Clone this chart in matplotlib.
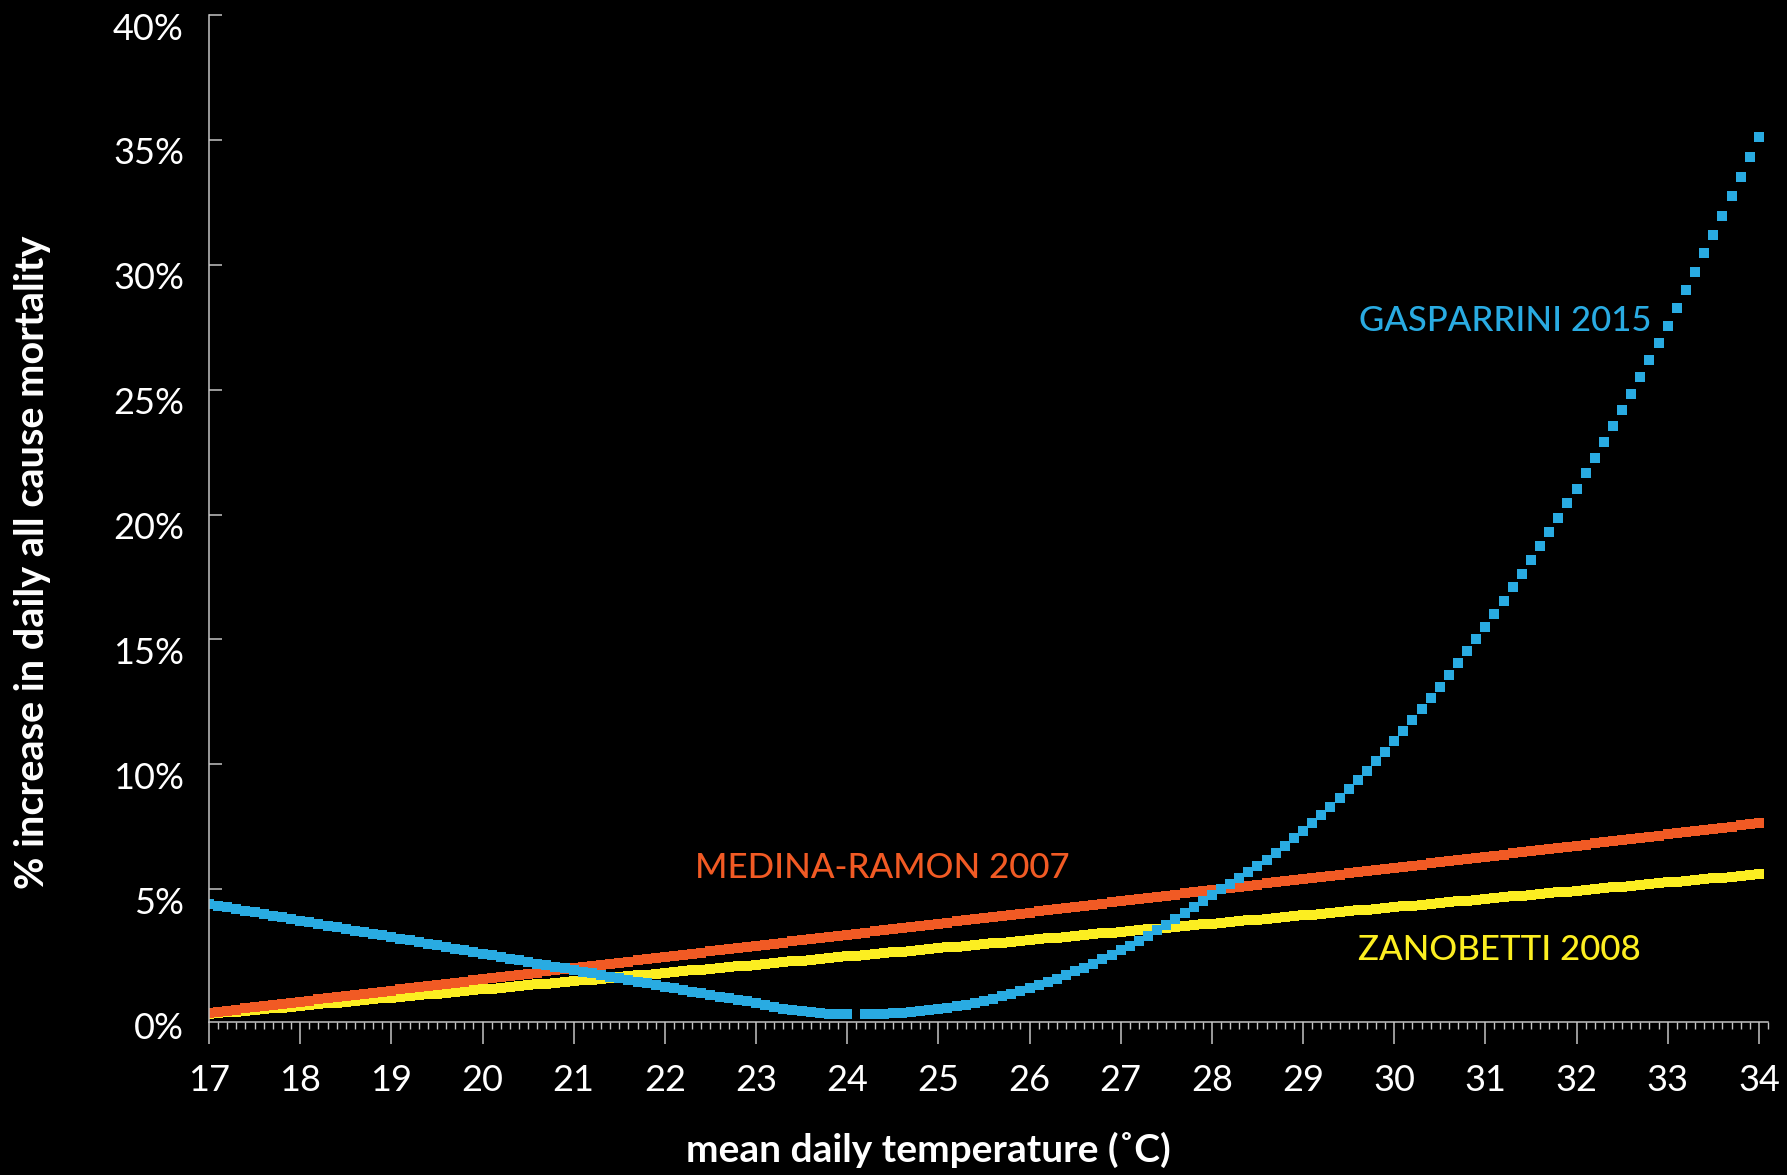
import numpy as np
import matplotlib
matplotlib.use('Agg')
import matplotlib.pyplot as plt
import matplotlib.transforms as mtransforms
from matplotlib.ticker import MultipleLocator

plt.rcParams['font.family'] = ['Lato', 'DejaVu Sans']

# temperature steps, 0.1 C from 17 to 34
temps = np.round(np.arange(170, 341) / 10.0, 1)

# % increase in mortality, one value per 0.1 C
medina = [
    0.05, 0.09, 0.14, 0.18, 0.23, 0.27, 0.32, 0.36, 0.41, 0.45,
    0.50, 0.54, 0.59, 0.63, 0.68, 0.72, 0.77, 0.81, 0.86, 0.90,
    0.94, 0.99, 1.03, 1.08, 1.12, 1.17, 1.21, 1.26, 1.30, 1.35,
    1.39, 1.44, 1.48, 1.53, 1.57, 1.62, 1.66, 1.71, 1.75, 1.80,
    1.83, 1.88, 1.92, 1.97, 2.01, 2.06, 2.10, 2.15, 2.19, 2.24,
    2.28, 2.33, 2.37, 2.42, 2.46, 2.51, 2.55, 2.60, 2.64, 2.69,
    2.73, 2.77, 2.82, 2.86, 2.91, 2.95, 3.00, 3.04, 3.09, 3.13,
    3.17, 3.22, 3.26, 3.31, 3.35, 3.40, 3.44, 3.49, 3.53, 3.58,
    3.62, 3.66, 3.71, 3.75, 3.80, 3.84, 3.89, 3.93, 3.98, 4.02,
    4.06, 4.11, 4.15, 4.20, 4.24, 4.29, 4.33, 4.38, 4.42, 4.47,
    4.51, 4.56, 4.60, 4.65, 4.69, 4.74, 4.78, 4.83, 4.87, 4.92,
    4.96, 5.00, 5.05, 5.09, 5.14, 5.18, 5.23, 5.27, 5.32, 5.36,
    5.40, 5.45, 5.49, 5.54, 5.58, 5.63, 5.67, 5.72, 5.76, 5.81,
    5.85, 5.89, 5.94, 5.98, 6.03, 6.07, 6.12, 6.16, 6.21, 6.25,
    6.29, 6.34, 6.38, 6.43, 6.47, 6.52, 6.56, 6.61, 6.65, 6.70,
    6.74, 6.78, 6.83, 6.87, 6.92, 6.96, 7.01, 7.05, 7.10, 7.14,
    7.19, 7.23, 7.28, 7.32, 7.37, 7.41, 7.46, 7.50, 7.55, 7.59,
    7.63]

zanobetti = [
    0.00, 0.03, 0.07, 0.10, 0.13, 0.16, 0.20, 0.23, 0.26, 0.30,
    0.33, 0.36, 0.40, 0.43, 0.46, 0.49, 0.53, 0.56, 0.59, 0.63,
    0.66, 0.69, 0.72, 0.76, 0.79, 0.82, 0.86, 0.89, 0.92, 0.96,
    0.99, 1.02, 1.05, 1.09, 1.12, 1.15, 1.19, 1.22, 1.25, 1.28,
    1.32, 1.35, 1.38, 1.42, 1.45, 1.48, 1.51, 1.55, 1.58, 1.61,
    1.65, 1.68, 1.71, 1.75, 1.78, 1.81, 1.84, 1.88, 1.91, 1.94,
    1.98, 2.01, 2.04, 2.07, 2.11, 2.14, 2.17, 2.21, 2.24, 2.27,
    2.31, 2.34, 2.37, 2.40, 2.44, 2.47, 2.50, 2.54, 2.57, 2.60,
    2.64, 2.67, 2.70, 2.73, 2.77, 2.80, 2.83, 2.86, 2.90, 2.93,
    2.96, 3.00, 3.03, 3.06, 3.09, 3.13, 3.16, 3.19, 3.23, 3.26,
    3.29, 3.32, 3.36, 3.39, 3.42, 3.46, 3.49, 3.52, 3.55, 3.59,
    3.62, 3.65, 3.69, 3.72, 3.75, 3.78, 3.82, 3.85, 3.88, 3.92,
    3.95, 3.98, 4.02, 4.05, 4.08, 4.11, 4.15, 4.18, 4.21, 4.25,
    4.28, 4.31, 4.34, 4.38, 4.41, 4.44, 4.48, 4.51, 4.54, 4.57,
    4.61, 4.64, 4.67, 4.71, 4.74, 4.77, 4.80, 4.84, 4.87, 4.90,
    4.94, 4.97, 5.00, 5.04, 5.07, 5.10, 5.13, 5.17, 5.20, 5.23,
    5.27, 5.30, 5.33, 5.36, 5.40, 5.43, 5.46, 5.50, 5.53, 5.56,
    5.60]

gasparrini = [
    4.40, 4.33, 4.27, 4.20, 4.14, 4.07, 4.00, 3.94, 3.87, 3.81,
    3.74, 3.67, 3.61, 3.54, 3.48, 3.41, 3.34, 3.28, 3.21, 3.15,
    3.08, 3.01, 2.95, 2.88, 2.82, 2.75, 2.68, 2.62, 2.55, 2.49,
    2.42, 2.35, 2.29, 2.22, 2.16, 2.09, 2.02, 1.96, 1.89, 1.83,
    1.76, 1.69, 1.63, 1.56, 1.50, 1.43, 1.36, 1.30, 1.23, 1.17,
    1.10, 1.03, 0.97, 0.90, 0.84, 0.77, 0.70, 0.64, 0.57, 0.51,
    0.44, 0.38, 0.30, 0.22, 0.16, 0.11, 0.07, 0.04, 0.02, 0.01,
    0.00, np.nan, 0.00, 0.01, 0.02, 0.04, 0.06, 0.09, 0.12, 0.16,
    0.21, 0.25, 0.32, 0.38, 0.46, 0.54, 0.62, 0.72, 0.82, 0.92,
    1.04, 1.16, 1.28, 1.42, 1.56, 1.71, 1.86, 2.02, 2.19, 2.37,
    2.55, 2.74, 2.94, 3.14, 3.36, 3.58, 3.80, 4.04, 4.28, 4.53,
    4.78, 5.00, 5.22, 5.45, 5.68, 5.93, 6.18, 6.46, 6.73, 7.03,
    7.33, 7.64, 7.96, 8.30, 8.64, 8.99, 9.35, 9.73, 10.12, 10.51,
    10.93, 11.35, 11.78, 12.21, 12.66, 13.11, 13.57, 14.04, 14.52, 15.01,
    15.51, 16.02, 16.54, 17.08, 17.62, 18.16, 18.72, 19.29, 19.86, 20.45,
    21.04, 21.65, 22.27, 22.90, 23.54, 24.19, 24.84, 25.51, 26.18, 26.87,
    27.56, 28.27, 28.99, 29.72, 30.46, 31.21, 31.97, 32.74, 33.52, 34.30,
    35.10]

series = [
    ('ZANOBETTI 2008', zanobetti, '#FCEE21', (29.60, 2.16)),
    ('MEDINA-RAMON 2007', medina, '#F15A24', (22.33, 5.44)),
    ('GASPARRINI 2015', gasparrini, '#29ABE2', (29.61, 27.36)),
]
yticks = [0, 5, 10, 15, 20, 25, 30, 35, 40]
xticks = list(range(17, 35))

axis_col = '#C4C4C4'

fig = plt.figure(figsize=(17.87, 11.75), dpi=100, facecolor='black')
ax = fig.add_axes([0.11696, 0.13021, 0.87241, 0.85702], facecolor='black')

for name, vals, col, (tx, ty) in series:
    ax.plot(temps, vals, linestyle='none', marker='s', markersize=7.0,
            markeredgewidth=0, color=col)
    ax.text(tx, ty, name, color=col, fontsize=25, fontweight='medium',
            ha='left', va='baseline')

ax.set_xlim(17, 34.1)
ax.set_ylim(-0.32, 40)

for s in ['top', 'right']:
    ax.spines[s].set_visible(False)
for s in ['left', 'bottom']:
    ax.spines[s].set_color(axis_col)
    ax.spines[s].set_linewidth(1.1)

ax.set_xticks(xticks)
ax.set_xticklabels([str(t) for t in xticks])
ax.xaxis.set_minor_locator(MultipleLocator(0.1))
ax.set_yticks(yticks)
ax.set_yticklabels(['%d%%' % t for t in yticks])

ax.tick_params(axis='x', which='major', direction='out', length=16, width=1.1,
               color=axis_col, labelcolor='white', labelsize=26, pad=14)
ax.tick_params(axis='x', which='minor', direction='out', length=5, width=1.0,
               color=axis_col)
ax.tick_params(axis='y', which='major', direction='in', length=9.4, width=1.1,
               color=axis_col, labelcolor='white', labelsize=26, pad=18)

# y labels sit a little below their ticks in the original
off = mtransforms.ScaledTranslation(0, -11 / 100, fig.dpi_scale_trans)
for lab in ax.get_yticklabels():
    lab.set_transform(lab.get_transform() + off)

fig.text(928 / 1787, 1 - 1162 / 1175, 'mean daily temperature (˚C)', color='white',
         fontsize=28, fontweight='bold', ha='center', va='baseline')
fig.text(33 / 1787, 1 - 562 / 1175, '% increase in daily all cause mortality',
         color='white', fontsize=28.5, fontweight='bold', rotation=90,
         ha='center', va='center')

fig.savefig('out.png', dpi=100, facecolor='black')
